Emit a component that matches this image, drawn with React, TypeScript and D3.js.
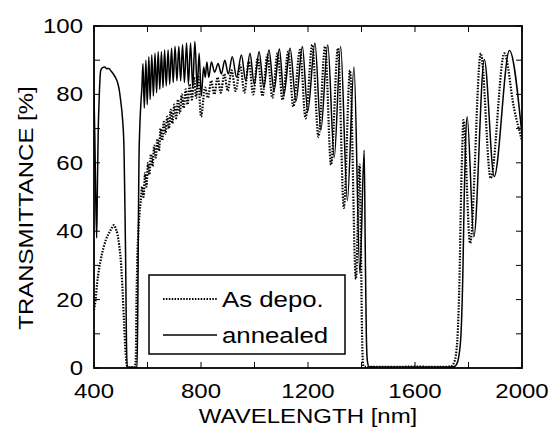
import React from "react";
import * as d3 from "d3";

const xTicksMajor = [400, 800, 1200, 1600, 2000];
const xTicksAll = [400, 600, 800, 1000, 1200, 1400, 1600, 1800, 2000];
const yTicksMajor = [0, 20, 40, 60, 80, 100];
const yTicksAll = [0, 10, 20, 30, 40, 50, 60, 70, 80, 90, 100];
const legendLabels = ["As depo.", "annealed"];
const xTitle = "WAVELENGTH [nm]";
const yTitle = "TRANSMITTANCE [%]";

// annealed: [wavelength nm, transmittance %]
const annealed: [number, number][] = [
  [400, 80], [403, 68], [406, 52], [410, 38], [413, 55], [416, 70], [419, 78], [422, 84], [425, 87],
  [432, 87.8], [440, 88], [448, 87.5], [456, 87.6], [464, 86.8], [472, 86], [480, 85], [488, 83.5],
  [494, 81.5], [500, 78], [506, 73.5], [512, 64.7], [515, 50], [518, 33.6], [521, 10], [524, 0.3],
  [545, 0.2], [561, 0.3], [564, 20], [566, 43], [568, 60], [571, 70], [575, 77], [579, 82],
  [583, 89], [588, 76], [594, 90], [599, 77], [605, 91], [610, 78.5], [616, 91.5], [622, 79.5],
  [628, 92], [634, 80.5], [640, 92.5], [646, 81.5], [652, 92.5], [658, 82], [664, 93], [670, 82.5],
  [677, 93], [683, 83], [690, 93.5], [696, 83.5], [703, 94], [710, 84], [717, 94], [724, 84],
  [731, 94.5], [738, 83.5], [746, 95], [753, 83], [761, 95], [769, 82], [777, 95.5], [786, 82],
  [793, 92], [801, 79.5], [810, 88], [816, 85], [822, 89.5], [829, 85], [839, 89.5], [851, 86.5],
  [864, 89], [876, 86], [889, 90], [902, 86], [917, 91], [933, 85], [951, 91.5], [967, 84],
  [983, 92], [999, 83], [1017, 92.5], [1035, 82], [1054, 93], [1073, 81], [1093, 93.3], [1110, 80],
  [1133, 93.5], [1155, 78], [1179, 94], [1199, 75], [1226, 95], [1248, 69.5], [1274, 94.5],
  [1298, 61.5], [1322, 94], [1347, 49], [1372, 88], [1394, 27.7], [1410, 63.7], [1414, 35],
  [1418, 10], [1422, 2], [1428, 0.4], [1500, 0.3], [1600, 0.3], [1700, 0.3], [1745, 0.4],
  [1755, 1], [1763, 3], [1772, 10], [1779, 28], [1784, 50], [1789, 66], [1795, 73.5], [1820, 38.4],
  [1859, 90.2], [1896, 56], [1953, 92.8], [2000, 68],
];

// as deposited: [wavelength nm, transmittance %]
const asDepo: [number, number][] = [
  [400, 17], [406, 20], [412, 25], [418, 28.5], [425, 31.6], [435, 35], [444, 37.4], [453, 39],
  [462, 40.3], [475, 41.8], [480, 41], [488, 39], [494, 36], [500, 31.6], [506, 23.8], [512, 14],
  [518, 4.4], [524, 0.5], [530, 0.2], [552, 0.2], [556, 2], [559, 20], [562, 32], [566, 40],
  [570, 45], [575, 49], [580, 53], [585, 50], [591, 57], [596, 53], [602, 60], [607, 56.5],
  [613, 62.5], [619, 59], [625, 65], [631, 61.5], [637, 67], [643, 63.5], [649, 70], [655, 66.5],
  [661, 72], [667, 68.5], [674, 73.5], [680, 70], [687, 75.5], [693, 71.5], [700, 77], [707, 73],
  [714, 78.5], [721, 74.5], [728, 80], [735, 76], [743, 81.5], [750, 77], [758, 83], [766, 78.5],
  [774, 85], [782, 79], [789, 85.5], [800, 73.5], [815, 82], [826, 79], [838, 84], [850, 80],
  [862, 85], [874, 80.5], [887, 86], [900, 81], [914, 87], [930, 81], [947, 88.5], [962, 80.5],
  [979, 89.5], [995, 80], [1012, 90.5], [1030, 79.5], [1048, 91.5], [1067, 79], [1086, 92],
  [1105, 78.4], [1126, 92.5], [1145, 76.4], [1170, 93], [1191, 73], [1216, 94.5], [1239, 67.6],
  [1264, 94], [1286, 59.4], [1312, 93.5], [1334, 46.8], [1357, 87], [1379, 26], [1393, 59.5],
  [1398, 35], [1402, 10], [1406, 1], [1412, 0.3], [1500, 0.3], [1600, 0.4], [1700, 0.3],
  [1735, 0.5], [1748, 2], [1758, 8], [1766, 25], [1772, 50], [1777, 65], [1781, 72.5],
  [1806, 36.5], [1846, 92], [1883, 55.5], [1934, 92], [1970, 76], [2000, 66.5],
];

const W = 554;
const H = 428;
const L = 94, R = 522, T = 26, B = 368;
const FONT = "'Liberation Sans', Arial, Helvetica, sans-serif";
const SX = 1.2;

function StretchText(props: { x: number; y: number; size: number; anchor?: string; rotate?: number; children: React.ReactNode }) {
  const { x, y, size, anchor = "start", rotate = 0, children } = props;
  return (
    <text
      transform={`translate(${x},${y}) rotate(${rotate}) scale(${SX},1)`}
      textAnchor={anchor}
      fontSize={size}
    >
      {children}
    </text>
  );
}

export default function App() {
  const x = d3.scaleLinear().domain([400, 2000]).range([L, R]);
  const y = d3.scaleLinear().domain([0, 100]).range([B, T]);
  const line = d3
    .line<[number, number]>()
    .x((d) => x(d[0]))
    .y((d) => y(d[1]))
    .curve(d3.curveMonotoneX);
  const tick = 6;
  const fs = 20;
  const legX = 149, legY = 275, legW = 196, legH = 79;

  return (
    <svg width={W} height={H} style={{ position: "absolute", left: 0, top: 0 }} fontFamily={FONT}>
      <rect x={0} y={0} width={W} height={H} fill="#fff" />
      <defs>
        <clipPath id="plot">
          <rect x={L} y={T} width={R - L} height={B - T} />
        </clipPath>
      </defs>
      <g clipPath="url(#plot)">
        <path d={line(asDepo) || ""} fill="none" stroke="#000" strokeWidth={2.2} strokeDasharray="1.5 1.4" />
        <path d={line(annealed) || ""} fill="none" stroke="#000" strokeWidth={1.5} />
      </g>
      {xTicksAll.map((v) => (
        <g key={"xt" + v}>
          <line x1={x(v)} x2={x(v)} y1={B} y2={B - tick} stroke="#000" strokeWidth={1} />
          <line x1={x(v)} x2={x(v)} y1={T} y2={T + tick} stroke="#000" strokeWidth={1} />
        </g>
      ))}
      {yTicksAll.map((v) => (
        <g key={"yt" + v}>
          <line x1={L} x2={L + tick} y1={y(v)} y2={y(v)} stroke="#000" strokeWidth={1} />
          <line x1={R} x2={R - tick} y1={y(v)} y2={y(v)} stroke="#000" strokeWidth={1} />
        </g>
      ))}
      <rect x={L} y={T} width={R - L} height={B - T} fill="none" stroke="#000" strokeWidth={1.8} />
      {xTicksMajor.map((v) => (
        <StretchText key={"xl" + v} x={x(v)} y={398} size={fs} anchor="middle">
          {v}
        </StretchText>
      ))}
      {yTicksMajor.map((v) => (
        <StretchText key={"yl" + v} x={83} y={y(v) + 7} size={fs} anchor="end">
          {v}
        </StretchText>
      ))}
      <StretchText x={(L + R) / 2} y={423} size={fs} anchor="middle">
        {xTitle}
      </StretchText>
      <StretchText x={33} y={208} size={fs} anchor="middle" rotate={-90}>
        {yTitle}
      </StretchText>
      <rect x={legX} y={legY} width={legW} height={legH} fill="#fff" stroke="#000" strokeWidth={1.5} />
      <line x1={163} x2={217} y1={299} y2={299} stroke="#000" strokeWidth={2.2} strokeDasharray="1.5 1.4" />
      <line x1={163} x2={217} y1={335} y2={335} stroke="#000" strokeWidth={1.5} />
      <StretchText x={222} y={307} size={21.5}>{legendLabels[0]}</StretchText>
      <StretchText x={222} y={343} size={21.5}>{legendLabels[1]}</StretchText>
    </svg>
  );
}
